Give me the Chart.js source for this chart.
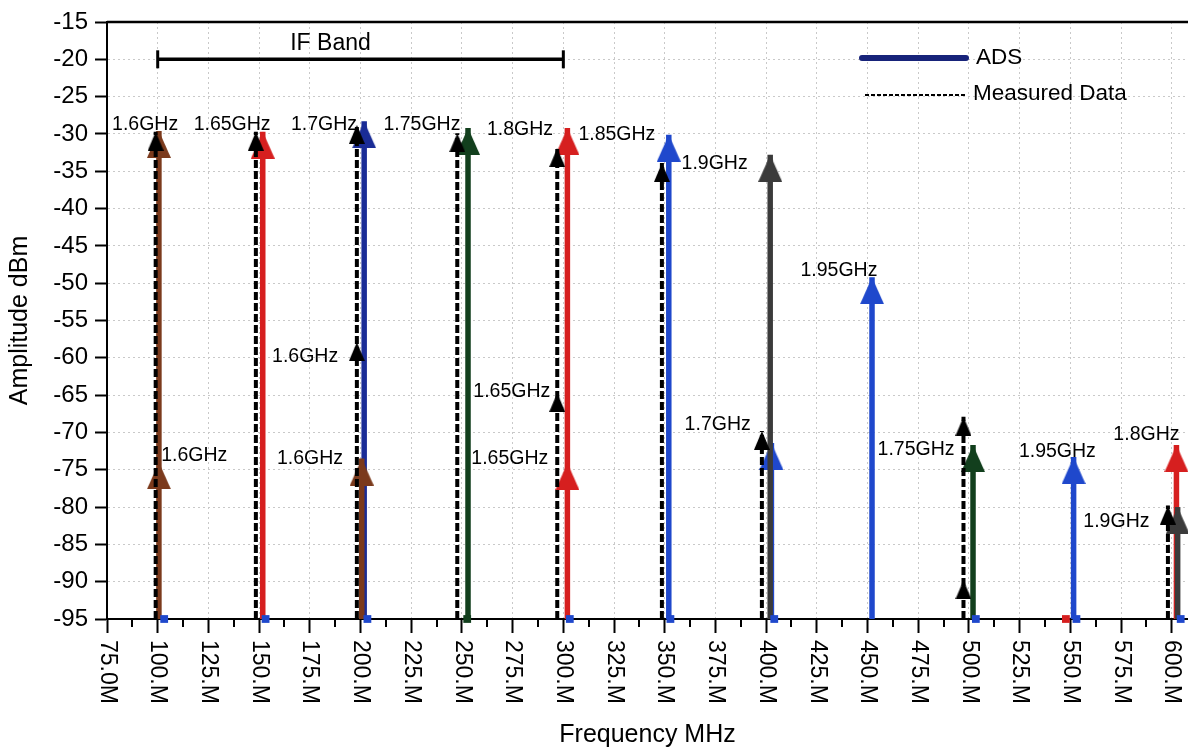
<!DOCTYPE html>
<html>
<head>
<meta charset="utf-8">
<title>IF spectrum: ADS vs measured</title>
<style>
  html, body { margin: 0; padding: 0; background: #ffffff; }
  #wrap { width: 1188px; height: 750px; }
</style>
<script src="https://cdn.jsdelivr.net/npm/chart.js@4.4.1/dist/chart.umd.min.js"></script>
</head>
<body>
<div id="wrap"><canvas id="chart" width="1188" height="750"></canvas></div>
<script>
const FONT = "'Liberation Sans', Arial, Helvetica, sans-serif";

// ---- axes -------------------------------------------------------------
const xTickValues = [75, 100, 125, 150, 175, 200, 225, 250, 275, 300, 325, 350, 375, 400, 425, 450, 475, 500, 525, 550, 575, 600];
const xTickLabels = ['75.0M', '100.M', '125.M', '150.M', '175.M', '200.M', '225.M', '250.M', '275.M', '300.M', '325.M', '350.M', '375.M', '400.M', '425.M', '450.M', '475.M', '500.M', '525.M', '550.M', '575.M', '600.M'];
const xMinorTicks = [87.5, 112.5, 137.5, 162.5, 187.5, 212.5, 237.5, 262.5, 287.5, 312.5, 337.5, 362.5, 387.5, 412.5, 437.5, 462.5, 487.5, 512.5, 537.5, 562.5, 587.5];
const yTickValues = [-95, -90, -85, -80, -75, -70, -65, -60, -55, -50, -45, -40, -35, -30, -25, -20, -15];
const floorLevel = -95;

// ---- ADS simulated tones: IF frequency (MHz) and peak levels (dBm) ----
const adsFreq   = [100.6, 151.8, 201.8, 200.6, 253.0, 302.0, 352.0, 402.6, 402.0, 452.2, 502.0, 551.6, 602.3, 602.9];
const adsLevels = [[-74, -29.6], [-29.7], [-28.3], [-73.5], [-29.2], [-74.1, -29.2], [-30.1], [-71.4], [-32.8], [-49.2], [-71.7], [-73.3], [-71.7], [-80]];
const adsColors = ['#7b3a1c', '#d61f1f', '#1a2c96', '#7b3a1c', '#123f1d', '#d61f1f', '#1f48cc', '#1f48cc', '#3b3b3b', '#1f48cc', '#123f1d', '#1f48cc', '#d61f1f', '#3b3b3b'];

// ---- measured tones --------------------------------------------------
const measFreq   = [99.0, 148.4, 198.2, 247.7, 297.0, 348.6, 397.9, 497.3, 598.1];
const measLevels = [[-29.7], [-29.7], [-57.9, -28.8], [-29.9], [-64.7, -31.9], [-33.9], [-69.8], [-89.8, -67.9], [-79.8]];

// ---- small markers sitting on the noise floor -------------------------
const markerFreq   = [103.2, 153.2, 203.4, 252.6, 303.2, 352.8, 404.0, 503.4, 547.8, 553.0, 604.4];
const markerColors = ['#1f48cc', '#1f48cc', '#1f48cc', '#123f1d', '#1f48cc', '#1f48cc', '#1f48cc', '#1f48cc', '#d61f1f', '#1f48cc', '#1f48cc'];

// ---- RF frequency labels placed beside the tones ---------------------
const labelText  = ['1.6GHz', '1.65GHz', '1.7GHz', '1.75GHz', '1.8GHz', '1.85GHz', '1.9GHz', '1.95GHz',
                    '1.6GHz', '1.6GHz', '1.6GHz', '1.65GHz', '1.65GHz', '1.7GHz', '1.75GHz', '1.95GHz', '1.8GHz', '1.9GHz'];
const labelFreq  = [93.8, 136.7, 182.0, 230.3, 278.6, 326.4, 374.6, 435.9,
                    118.0, 172.7, 175.1, 274.6, 273.6, 376.1, 473.9, 543.6, 587.5, 572.7];
const labelLevel = [-28.7, -28.7, -28.7, -28.7, -29.4, -30.1, -34.0, -48.3,
                    -73.1, -59.8, -73.5, -64.5, -73.5, -68.9, -72.3, -72.6, -70.3, -81.9];

// ---- IF band marker --------------------------------------------------
const ifBandEdges = [100, 300];
const ifBandLevel = -20;
const ifBandLabel = 'IF Band';
const ifBandLabelPos = [185.2, -17.9];

const legendLabels = ['ADS', 'Measured Data'];

// Arrowhead image: the tip sits exactly at the centre of the canvas,
// the triangle body hangs below it.
function arrowHead(color, w, h) {
  const c = document.createElement('canvas');
  c.width = w;
  c.height = 2 * h;
  const g = c.getContext('2d');
  g.fillStyle = color;
  g.beginPath();
  g.moveTo(w / 2, h);
  g.lineTo(w, 2 * h);
  g.lineTo(0, 2 * h);
  g.closePath();
  g.fill();
  return c;
}

// A vertical stem from the floor up to the highest level, with an arrowhead on every level.
function arrowDataset(freq, levels, color, style) {
  const head = arrowHead(color, style.headW, style.headH);
  const pts = [{ x: freq, y: floorLevel }].concat(
    levels.slice().sort((a, b) => a - b).map(v => ({ x: freq, y: v }))
  );
  return {
    type: 'line',
    data: pts,
    borderColor: color,
    backgroundColor: color,
    borderWidth: style.lineW,
    borderDash: style.dash,
    borderCapStyle: 'butt',
    tension: 0,
    clip: false,
    pointStyle: c => (c.dataIndex === 0 ? 'circle' : head),
    pointRadius: c => (c.dataIndex === 0 ? 0 : style.headW / 2),
    pointBorderWidth: 0
  };
}

const adsStyle  = { lineW: 5.5, headW: 24, headH: 27, dash: [] };
const measStyle = { lineW: 4, headW: 16, headH: 19, dash: [8, 3] };

// drawing order: first entry is painted first (bottom)
const layers = [];
adsFreq.forEach((f, i) => layers.push(arrowDataset(f, adsLevels[i], adsColors[i], adsStyle)));
layers.push({
  type: 'line',
  data: markerFreq.map(f => ({ x: f, y: floorLevel })),
  showLine: false,
  clip: false,
  pointStyle: 'rect',
  pointRadius: 5.5,
  pointBorderWidth: 0,
  pointBackgroundColor: markerColors
});
measFreq.forEach((f, i) => layers.push(arrowDataset(f, measLevels[i], '#000000', measStyle)));
layers.push({
  type: 'line',
  data: ifBandEdges.map(f => ({ x: f, y: ifBandLevel })),
  borderColor: '#000000',
  borderWidth: 3.5,
  clip: false,
  pointStyle: 'line',
  pointRotation: 90,
  pointRadius: 9,
  pointBorderWidth: 3,
  pointBorderColor: '#000000'
});
// Chart.js paints lower "order" last, so reverse the stacking index
layers.forEach((d, i) => { d.order = layers.length - i; });

// Tone labels sit underneath the stems
const toneLabels = {
  id: 'toneLabels',
  beforeDatasetsDraw(chart) {
    const { ctx, scales: { x, y } } = chart;
    ctx.save();
    ctx.fillStyle = '#000';
    ctx.textAlign = 'center';
    ctx.textBaseline = 'middle';
    ctx.font = `19.5px ${FONT}`;
    labelText.forEach((t, i) => {
      ctx.fillText(t, x.getPixelForValue(labelFreq[i]), y.getPixelForValue(labelLevel[i]));
    });
    ctx.font = `23px ${FONT}`;
    ctx.fillText(ifBandLabel, x.getPixelForValue(ifBandLabelPos[0]), y.getPixelForValue(ifBandLabelPos[1]));
    ctx.restore();
  }
};

// Frame top edge, minor x ticks, rotated x tick labels and the legend
const frameAndLegend = {
  id: 'frameAndLegend',
  afterDraw(chart) {
    const { ctx, chartArea: a, scales: { x } } = chart;
    ctx.save();
    ctx.strokeStyle = '#000';
    ctx.lineWidth = 2.5;
    ctx.beginPath();
    ctx.moveTo(a.left, a.top);
    ctx.lineTo(a.right, a.top);
    ctx.stroke();

    ctx.lineWidth = 2;
    ctx.beginPath();
    xMinorTicks.forEach(v => {
      const px = Math.round(x.getPixelForValue(v));
      ctx.moveTo(px, a.bottom);
      ctx.lineTo(px, a.bottom + 8);
    });
    ctx.stroke();

    ctx.fillStyle = '#000';
    ctx.font = `23px ${FONT}`;
    ctx.textAlign = 'left';
    ctx.textBaseline = 'middle';
    x.ticks.forEach((t, i) => {
      ctx.save();
      ctx.translate(x.getPixelForValue(t.value), a.bottom + 21);
      ctx.rotate(Math.PI / 2);
      ctx.fillText(xTickLabels[i], 0, 0);
      ctx.restore();
    });

    // legend
    const lx = a.right - 326;
    ctx.lineCap = 'round';
    ctx.strokeStyle = '#17237a';
    ctx.lineWidth = 6;
    ctx.beginPath();
    ctx.moveTo(lx, a.top + 36);
    ctx.lineTo(lx + 104, a.top + 36);
    ctx.stroke();
    ctx.lineCap = 'butt';
    ctx.strokeStyle = '#000';
    ctx.lineWidth = 2;
    ctx.setLineDash([4, 2]);
    ctx.beginPath();
    ctx.moveTo(lx + 3, a.top + 73);
    ctx.lineTo(lx + 103, a.top + 73);
    ctx.stroke();
    ctx.setLineDash([]);
    ctx.font = `22.5px ${FONT}`;
    ctx.fillText(legendLabels[0], lx + 114, a.top + 36);
    ctx.fillText(legendLabels[1], lx + 111, a.top + 72);
    ctx.restore();
  }
};

const gridColor = '#c9c9c9';

new Chart(document.getElementById('chart'), {
  type: 'line',
  data: { datasets: layers },
  options: {
    responsive: false,
    animation: false,
    events: [],
    layout: { autoPadding: false, padding: { top: 22, right: 0, bottom: 0, left: 0 } },
    plugins: { legend: { display: false }, tooltip: { enabled: false } },
    scales: {
      x: {
        type: 'linear',
        min: 75,
        max: 608,
        afterBuildTicks: s => { s.ticks = xTickValues.map(v => ({ value: v })); },
        afterFit: s => { s.height = 131; },
        ticks: { display: false },
        grid: { color: gridColor, lineWidth: 1, tickLength: 14, tickColor: '#000', tickWidth: 2 },
        border: { color: '#000', width: 2, dash: [2, 3] },
        title: {
          display: true, text: 'Frequency MHz', color: '#000',
          font: { family: FONT, size: 25 }, padding: { top: 0, bottom: 0 }
        }
      },
      y: {
        type: 'linear',
        min: -95,
        max: -15,
        afterBuildTicks: s => { s.ticks = yTickValues.map(v => ({ value: v })); },
        afterFit: s => { s.width = 107; },
        ticks: { color: '#000', font: { family: FONT, size: 24 }, padding: 7, callback: v => String(v) },
        grid: { color: gridColor, lineWidth: 1, tickLength: 12, tickColor: '#000', tickWidth: 2 },
        border: { color: '#000', width: 2, dash: [2, 3] },
        title: {
          display: true, text: 'Amplitude dBm', color: '#000',
          font: { family: FONT, size: 25 }, padding: { top: 5, bottom: 0 }
        }
      }
    }
  },
  plugins: [toneLabels, frameAndLegend]
});
</script>
</body>
</html>
